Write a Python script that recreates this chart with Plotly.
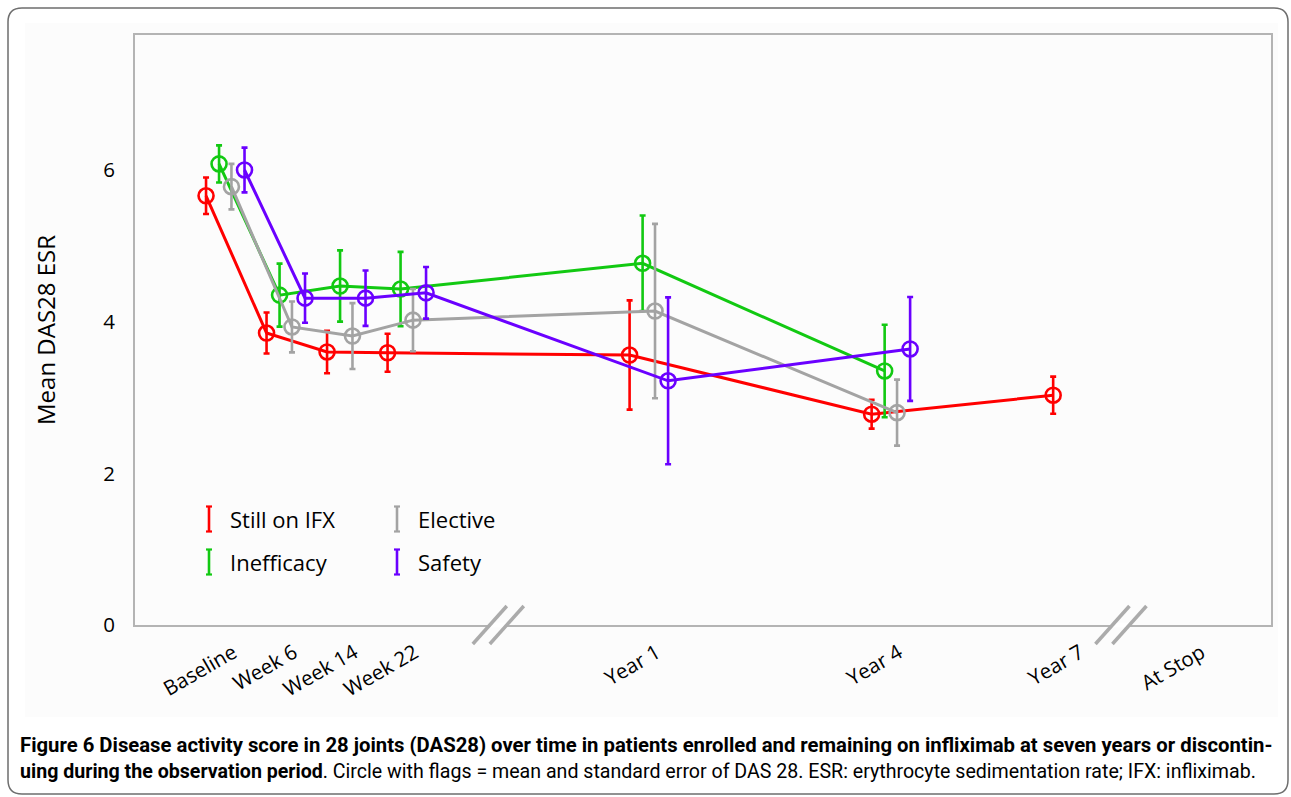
import plotly.graph_objects as go

# ---------------- data ----------------
categories = ["Baseline", "Week 6", "Week 14", "Week 22", "Year 1", "Year 4", "Year 7", "At Stop"]

still_on_ifx_mean = [5.66, 3.85, 3.60, 3.59, 3.56, 2.78, 3.03]
still_on_ifx_se   = [0.24, 0.27, 0.28, 0.25, 0.72, 0.19, 0.245]

inefficacy_mean = [6.08, 4.35, 4.47, 4.43, 4.77, 3.35]
inefficacy_se   = [0.245, 0.415, 0.47, 0.49, 0.63, 0.61]

elective_mean = [5.78, 3.93, 3.81, 4.02, 4.14, 2.80]
elective_se   = [0.30, 0.335, 0.435, 0.41, 1.15, 0.435]

safety_mean = [6.00, 4.31, 4.31, 4.38, 3.22, 3.64]
safety_se   = [0.295, 0.325, 0.365, 0.34, 1.10, 0.685]

y_ticks = [0, 2, 4, 6]

# ---------------- layout helpers ----------------
# horizontal slot of each category on the (broken) time axis
slot = {"Baseline": 0, "Week 6": 1, "Week 14": 2, "Week 22": 3,
        "Year 1": 7, "Year 4": 11, "Year 7": 14, "At Stop": 16}

series = [
    ("Still on IFX", still_on_ifx_mean, still_on_ifx_se, "#ff0000", 0.0),
    ("Inefficacy",   inefficacy_mean,   inefficacy_se,   "#12c912", 0.215),
    ("Elective",     elective_mean,     elective_se,     "#a3a3a3", 0.42),
    ("Safety",       safety_mean,       safety_se,       "#6a00ff", 0.636),
]

W, H = 1291, 797
L, R, T, B = 135, 1271, 35, 625  # plot area in pixels


def px(xp):
    return (xp - L) / (R - L)


def py(yp):
    return (B - yp) / (B - T)


fig = go.Figure()

for name, mean, se, color, off in series:
    xs = [slot[c] + off for c in categories[:len(mean)]]
    fig.add_trace(go.Scatter(
        x=xs, y=mean, name=name, mode="lines+markers",
        line=dict(color=color, width=3),
        marker=dict(symbol="circle-open", size=15, color=color, line=dict(width=2.6, color=color)),
        error_y=dict(type="data", array=se, visible=True, color=color, thickness=2.6, width=3),
        showlegend=False,
    ))

tick_vals = [slot[c] + 0.45 for c in categories]

fig.update_layout(
    width=W, height=H,
    margin=dict(l=L, r=W - R, t=T, b=H - B),
    paper_bgcolor="white",
    plot_bgcolor="#fefefe",
    font=dict(family="Open Sans, DejaVu Sans, sans-serif", color="black"),
    xaxis=dict(
        range=[-1.174, 17.60], tickmode="array", tickvals=tick_vals, ticktext=categories,
        tickangle=-30, tickfont=dict(size=20.5), showgrid=False, zeroline=False,
        showline=True, linecolor="#b4b4b4", linewidth=2, mirror=True,
        ticks="outside", ticklen=6, tickcolor="rgba(0,0,0,0)",
    ),
    yaxis=dict(
        range=[0, 7.78], tickmode="array", tickvals=y_ticks, tickfont=dict(size=20.5),
        showgrid=False, zeroline=False,
        showline=True, linecolor="#b4b4b4", linewidth=2, mirror=True,
        ticks="outside", ticklen=14, tickcolor="rgba(0,0,0,0)",
    ),
    showlegend=False,
)

shapes = []
# outer rounded frame
x0, y0, x1, y1, r = px(8), py(8), px(1288), py(794), 14 / (R - L)
rv = 14 / (B - T)
shapes.append(dict(
    type="path", xref="paper", yref="paper", layer="below",
    path=(f"M {x0 + r} {y0} L {x1 - r} {y0} Q {x1} {y0} {x1} {y0 - rv} "
          f"L {x1} {y1 + rv} Q {x1} {y1} {x1 - r} {y1} L {x0 + r} {y1} "
          f"Q {x0} {y1} {x0} {y1 + rv} L {x0} {y0 - rv} Q {x0} {y0} {x0 + r} {y0} Z"),
    line=dict(color="#6e6e6e", width=1.5), fillcolor="white",
))
# light chart panel
shapes.append(dict(type="rect", xref="paper", yref="paper", layer="below",
                   x0=px(25), x1=px(1278), y0=py(23), y1=py(717),
                   line=dict(width=0), fillcolor="#fcfcfc"))

# axis break marks
for bx in (4.83, 15.12):
    shapes.append(dict(type="line", xref="x", yref="paper", xsizemode="pixel", ysizemode="pixel",
                       xanchor=bx, yanchor=0, x0=-8, x1=8, y0=0, y1=0,
                       line=dict(color="white", width=5), layer="above"))
    for dxp in (-8.5, 8.5):
        shapes.append(dict(type="line", xref="x", yref="paper", xsizemode="pixel", ysizemode="pixel",
                           xanchor=bx, yanchor=0, x0=dxp - 17, x1=dxp + 17, y0=-19, y1=19,
                           line=dict(color="#ababab", width=3.5), layer="above"))

annotations = []
# hand-made legend with error-bar glyphs
legend_items = [("Still on IFX", "#ff0000", 209, 519, 228),
                ("Elective", "#a3a3a3", 397, 519, 416),
                ("Inefficacy", "#12c912", 209, 562, 228),
                ("Safety", "#6a00ff", 397, 562, 416)]
for label, color, gx, gy, tx in legend_items:
    shapes.append(dict(type="line", xref="paper", yref="paper", x0=px(gx), x1=px(gx),
                       y0=py(gy - 12.5), y1=py(gy + 12.5), line=dict(color=color, width=2.6)))
    for cy in (gy - 12.5, gy + 12.5):
        shapes.append(dict(type="line", xref="paper", yref="paper", x0=px(gx - 3), x1=px(gx + 3),
                           y0=py(cy), y1=py(cy), line=dict(color=color, width=2.2)))
    annotations.append(dict(text=label, xref="paper", yref="paper", x=px(tx), y=py(gy),
                            xanchor="left", yanchor="middle", showarrow=False,
                            font=dict(size=22, color="black")))

# y axis title
annotations.append(dict(text="Mean DAS28 ESR", xref="paper", yref="paper", x=px(45), y=py(330),
                        textangle=-90, showarrow=False, xanchor="center", yanchor="middle",
                        font=dict(size=24, color="black")))

# caption
cap_font = "Roboto, Open Sans, sans-serif"
annotations.append(dict(
    text="<b>Figure 6 Disease activity score in 28 joints (DAS28) over time in patients enrolled and remaining on infliximab at seven years or discontin-</b>",
    xref="paper", yref="paper", x=px(18), y=py(745), xanchor="left", yanchor="middle",
    showarrow=False, font=dict(size=20.3, color="black", family=cap_font)))
annotations.append(dict(
    text="<b>uing during the observation period</b>. Circle with flags = mean and standard error of DAS 28. ESR: erythrocyte sedimentation rate; IFX: infliximab.",
    xref="paper", yref="paper", x=px(18), y=py(771), xanchor="left", yanchor="middle",
    showarrow=False, font=dict(size=19.6, color="black", family=cap_font)))

fig.update_layout(shapes=shapes, annotations=annotations)

fig.write_html("out.html", config={"displayModeBar": False},
               post_script="document.body.style.margin='0px';")
